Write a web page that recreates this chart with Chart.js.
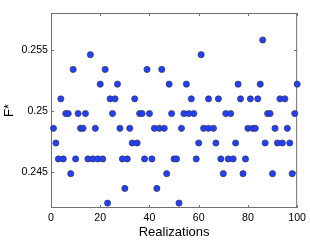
<!DOCTYPE html>
<html>
<head>
<meta charset="utf-8">
<script src="https://cdn.jsdelivr.net/npm/chart.js@4/dist/chart.umd.min.js"></script>
<style>
  html, body { margin: 0; padding: 0; background: #fff; }
  #wrap { width: 310px; height: 241px; }
</style>
</head>
<body>
<div id="wrap"><canvas id="myChart" width="310" height="241"></canvas></div>
<script>
// realization numbers grouped by the F* level they sit on
var levels = [0.2558, 0.2546, 0.2534, 0.2522, 0.2510, 0.2498, 0.2486, 0.2474, 0.2461, 0.2449, 0.2437, 0.2425]
var realizations = [
    [86],
    [16, 61],
    [9, 22, 39, 45],
    [20, 27, 48, 55, 76, 85, 100],
    [4, 24, 26, 34, 57, 64, 68, 77, 81, 84, 93, 95],
    [6, 7, 11, 14, 25, 36, 37, 40, 49, 54, 56, 58, 71, 73, 88, 89, 99],
    [1, 12, 13, 18, 28, 32, 42, 44, 46, 53, 62, 64, 66, 80, 82, 83, 91, 96],
    [2, 33, 35, 60, 67, 75, 87, 92, 94, 97],
    [3, 5, 10, 15, 17, 19, 21, 29, 31, 38, 41, 50, 51, 59, 69, 72, 74, 79],
    [8, 47, 70, 78, 90, 98],
    [30, 43],
    [23, 52]
]
var xTicks = [0, 20, 40, 60, 80, 100]
var yTicks = [0.245, 0.25, 0.255]
var yTickLabels = ['0.245', '0.25', '0.255']

// build the point list for the scatter
var points = []
for (var i = 0; i < levels.length; i++) {
    for (var j = 0; j < realizations[i].length; j++) {
        points.push({x: realizations[i][j], y: levels[i]})
    }
}

var font = "'Liberation Sans', Arial, Helvetica, sans-serif"

// box + inward tick marks, matlab style
var framePlugin = {
    id: 'frame',
    beforeDatasetsDraw: function (chart) {
        var ctx = chart.ctx, a = chart.chartArea
        var sx = chart.scales.x, sy = chart.scales.y
        ctx.save()
        ctx.strokeStyle = '#707070'
        ctx.lineWidth = 1
        ctx.strokeRect(a.left + 0.5, a.top + 0.5, a.right - a.left - 1, a.bottom - a.top - 1)
        ctx.beginPath()
        xTicks.forEach(function (t) {
            var px = Math.round(sx.getPixelForValue(t)) + 0.5
            ctx.moveTo(px, a.bottom); ctx.lineTo(px, a.bottom - 3)
            ctx.moveTo(px, a.top); ctx.lineTo(px, a.top + 3)
        })
        yTicks.forEach(function (t) {
            var py = Math.round(sy.getPixelForValue(t)) + 0.5
            ctx.moveTo(a.left, py); ctx.lineTo(a.left + 3, py)
            ctx.moveTo(a.right, py); ctx.lineTo(a.right - 3, py)
        })
        ctx.stroke()
        ctx.restore()
    }
}

var ctx = document.getElementById('myChart')
var myChart = new Chart(ctx, {
    type: 'scatter',
    data: {
        datasets: [{
            data: points,
            backgroundColor: 'rgb(34,64,250)',
            borderColor: 'rgba(55,55,75,0.85)',
            borderWidth: 0.8,
            pointRadius: 3.1,
            clip: 6
        }]
    },
    options: {
        responsive: false,
        animation: false,
        events: [],
        layout: { padding: { top: 13, right: 11, left: 0, bottom: 0 } },
        plugins: { legend: { display: false }, tooltip: { enabled: false } },
        scales: {
            x: {
                type: 'linear',
                min: 0,
                max: 100,
                afterBuildTicks: function (scale) {
                    scale.ticks = xTicks.map(function (v) { return {value: v} })
                },
                afterFit: function (scale) { scale.height = 33 },
                grid: { display: false, drawTicks: false },
                border: { display: false },
                ticks: { color: '#000', padding: 4, maxRotation: 0, font: { family: font, size: 10.6 } },
                title: {
                    display: true,
                    text: 'Realizations',
                    color: '#000',
                    padding: { top: 0, bottom: 1 },
                    font: { family: font, size: 13, lineHeight: 1.2 }
                }
            },
            y: {
                type: 'linear',
                min: 0.2421,
                max: 0.258,
                afterBuildTicks: function (scale) {
                    scale.ticks = yTicks.map(function (v) { return {value: v} })
                },
                afterFit: function (scale) { scale.width = 51 },
                grid: { display: false, drawTicks: false },
                border: { display: false },
                ticks: {
                    color: '#000',
                    padding: 3,
                    font: { family: font, size: 10.6 },
                    callback: function (v) {
                        var k = yTicks.indexOf(v)
                        return k >= 0 ? yTickLabels[k] : ''
                    }
                },
                title: {
                    display: true,
                    text: 'F*',
                    color: '#000',
                    padding: { top: 2, bottom: 0 },
                    font: { family: font, size: 13, lineHeight: 1.2 }
                }
            }
        }
    },
    plugins: [framePlugin]
})
</script>
</body>
</html>
